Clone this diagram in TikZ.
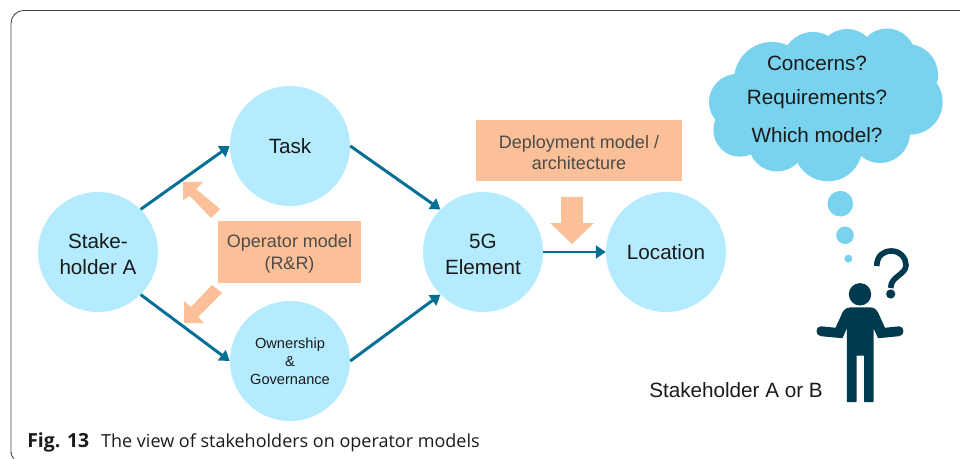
\documentclass[tikz,border=0pt]{standalone}
\usepackage{fontspec}
\setmainfont{Liberation Sans}
\newfontfamily\captionfont{Open Sans}
\usepackage{xcolor}
\usetikzlibrary{arrows.meta}
\definecolor{hubblue}{HTML}{B5EBFF}
\definecolor{cloudblue}{HTML}{79D3EE}
\definecolor{boxorange}{HTML}{FBC097}
\definecolor{linkblue}{HTML}{046F95}
\definecolor{persondark}{HTML}{003A4F}
\definecolor{inkdark}{HTML}{1A1A1A}
\newcommand{\hublift}{\rule{0pt}{13.2pt}}
\newcommand{\boxlift}{\rule{0pt}{12.1pt}}
\tikzset{
  hub/.style={circle,fill=hubblue,minimum size=3cm,inner sep=0pt,align=center,text=inkdark,font=\fontsize{14.7}{18.4}\selectfont},
  modelbox/.style={fill=boxorange,inner sep=0pt,align=center,text=black!70,font=\fontsize{12.8}{15.4}\selectfont},
  link/.style={draw=linkblue,line width=2.1pt,-{Triangle[length=7pt,width=9pt]}},
  blockarrow/.style={fill=boxorange},
  cloudtext/.style={inner sep=0pt,text=inkdark,font=\fontsize{14.7}{18}\selectfont},
}
\begin{document}
\begin{tikzpicture}[x=0.025cm,y=-0.025cm]
\useasboundingbox (0,0) rectangle (960,459);
\draw[line width=0.6pt,black!75,rounded corners=9pt] (960,10.5) -- (11,10.5) -- (11,453);
\draw[line width=0.6pt,black!75] (11,452) .. controls (11,455) and (12,457) .. (14,458.5);
\draw (98,252) node [hub] (stake) {\hublift Stake-\\holder A};
\draw (290,146) node [hub] (task) {Task};
\draw (290,361) node [hub,font=\fontsize{10.4}{12.8}\selectfont] (own) {Ownership\\\&\\Governance};
\draw (483,252) node [hub] (element) {\hublift 5G\\Element};
\draw (666,252) node [hub] (location) {Location};
\draw (289.5,252) node [modelbox,minimum width=3.575cm,minimum height=1.55cm] (operator) {\boxlift Operator model\\(R\&R)};
\draw (579,150.5) node [modelbox,minimum width=5.15cm,minimum height=1.525cm] (deploy) {\boxlift Deployment model /\\architecture};
\draw[link] (stake.north east) -- (task.west);
\draw[link] (stake.south east) -- (own.west);
\draw[link] (task.east) -- (element.north west);
\draw[link] (own.east) -- (element.south west);
\draw[link] (element.east) -- (location.west);
\fill[blockarrow] (183,182) -- (203,182) -- (196,189) -- (220,209) -- (211,218) -- (190,196) -- (183,200) -- cycle;
\fill[blockarrow] (184,323) -- (204,323) -- (198,317) -- (222,293) -- (212,285) -- (191,307) -- (184,301) -- cycle;
\fill[blockarrow] (561,197) -- (583,197) -- (583,223) -- (594,223) -- (572,244) -- (550,223) -- (561,223) -- cycle;
\fill[cloudblue] (822,103) ellipse [x radius=85,y radius=52];
\foreach \px/\py/\pr in {772/80/38,813/63/31,847/58/29,887/57/28.5,907/75/31,910/102/32.7,737/102/28,740/130/26.7,777/143/28.5,828/147/34.3,880/133/30}
  \fill[cloudblue] (\px,\py) circle [radius=\pr*0.025cm];
\fill[cloudblue] (840.3,203.7) circle [radius=0.32cm];
\fill[cloudblue] (845,235.3) circle [radius=0.22cm];
\fill[cloudblue] (848.3,258.7) circle [radius=0.1cm];
\draw (817,63) node [cloudtext] (concerns) {Concerns?};
\draw (817,99) node [cloudtext] (requirements) {Requirements?};
\draw (817,135) node [cloudtext] (which) {Which model?};
\fill[persondark] (860,294.3) circle [radius=0.28cm];
\filldraw[persondark,line width=1pt,line join=round] (847.5,401.5) -- (847.5,325) -- (842,337.5) -- (821,335.5) .. controls (816,335) and (816,327) .. (821,327) -- (836,328.5) -- (843,313) .. controls (845,309) and (848,308) .. (851,308) -- (870,308) .. controls (874,308) and (876,310) .. (878,314) -- (884.5,328.5) -- (899,327) .. controls (904,327) and (904,335) .. (899,335.5) -- (878.5,337.5) -- (872.8,325) -- (872.8,401.5) -- (864.8,401.5) -- (864.8,355) -- (855.8,355) -- (855.8,401.5) -- cycle;
\draw[persondark,line width=4pt] (876.7,266) .. controls (877,255) and (884,251) .. (891.5,251) .. controls (900,251) and (906,258) .. (906,265) .. controls (906,275) and (890.7,276) .. (890.7,288);
\fill[persondark] (890.7,294) circle [radius=0.115cm];
\draw (649,390) node [anchor=west,inner sep=0pt,text=inkdark,font=\fontsize{14.7}{18}\selectfont] (person) {Stakeholder A or B};
\draw (27,442) node [anchor=west,inner sep=0pt,text=inkdark,font=\captionfont\fontsize{12.8}{15}\selectfont] (caption) {{\fontsize{13.8}{15}\selectfont\textbf{Fig. 13}}\hspace{8.5pt}The view of stakeholders on operator models};
\end{tikzpicture}
\end{document}
